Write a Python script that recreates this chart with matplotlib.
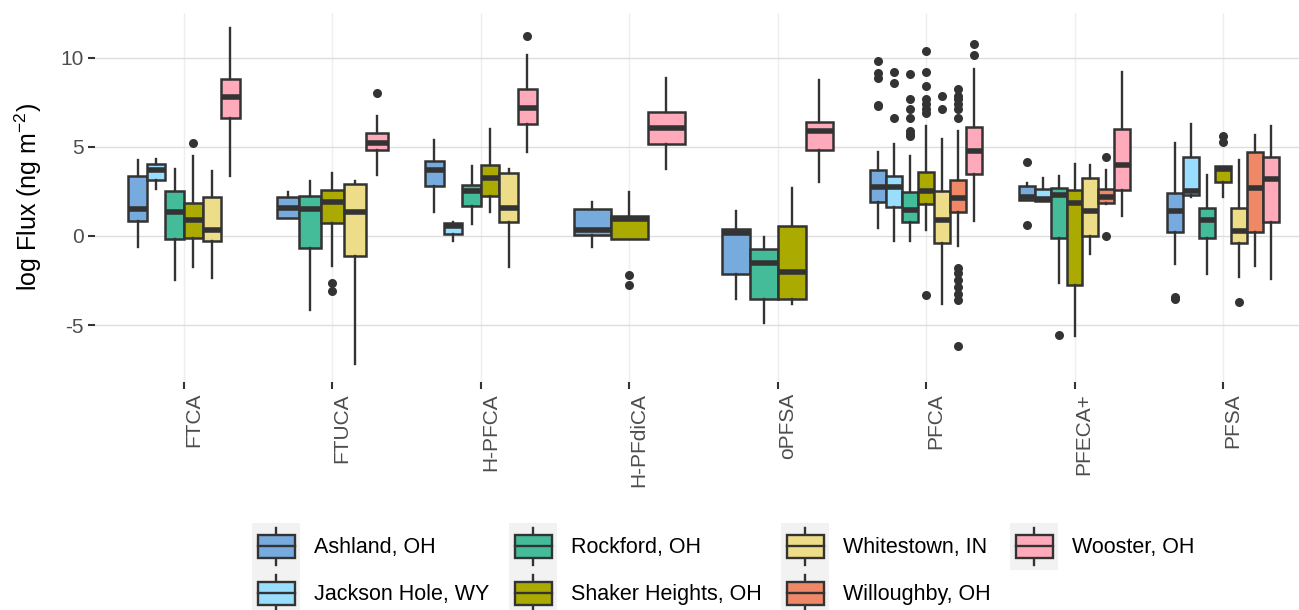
import matplotlib
matplotlib.use("Agg")
import matplotlib.pyplot as plt
from matplotlib.patches import Rectangle
from matplotlib.lines import Line2D
from matplotlib.legend_handler import HandlerBase

plt.rcParams['font.family'] = ['Liberation Sans', 'DejaVu Sans']
plt.rcParams['mathtext.fontset'] = 'custom'
plt.rcParams['mathtext.rm'] = 'Liberation Sans'
plt.rcParams['mathtext.it'] = 'Liberation Sans:italic'

# categories on the x axis
categories = ['FTCA', 'FTUCA', 'H-PFCA', 'H-PFdiCA', 'oPFSA', 'PFCA', 'PFECA+', 'PFSA']

sites = ['Ashland, OH', 'Jackson Hole, WY', 'Rockford, OH', 'Shaker Heights, OH',
         'Whitestown, IN', 'Willoughby, OH', 'Wooster, OH']
site_colors = ['#77AADD', '#99DDFF', '#44BB99', '#AAAA00', '#EEDD88', '#EE8866', '#FFAABB']

# rows: category, lower whisker, q1, median, q3, upper whisker
ashland = [
    ('FTCA', -0.64, 0.84, 1.52, 3.34, 4.28),
    ('FTUCA', 0.99, 0.99, 1.56, 2.18, 2.44),
    ('H-PFCA', 1.35, 2.81, 3.68, 4.18, 5.37),
    ('H-PFdiCA', -0.64, 0.06, 0.35, 1.50, 1.89),
    ('oPFSA', -3.51, -2.14, 0.15, 0.38, 1.41),
    ('PFCA', 0.43, 1.93, 2.72, 3.71, 4.69),
    ('PFECA+', 1.99, 1.99, 2.21, 2.78, 2.96),
    ('PFSA', -1.59, 0.21, 1.41, 2.40, 5.22),
]
ashland_out = {'PFCA': [9.81, 9.12, 8.84, 7.32, 7.28], 'PFECA+': [4.15, 0.62],
               'PFSA': [-3.40, -3.55]}

jackson_hole = [
    ('FTCA', 2.63, 3.15, 3.71, 4.03, 4.32),
    ('H-PFCA', -0.26, 0.11, 0.56, 0.75, 0.81),
    ('PFCA', -0.26, 1.65, 2.72, 3.38, 5.18),
    ('PFECA+', 1.97, 1.97, 2.06, 2.65, 3.25),
    ('PFSA', 2.16, 2.31, 2.53, 4.43, 6.29),
]
jackson_hole_out = {'PFCA': [9.19, 8.56, 6.62]}

rockford = [
    ('FTCA', -2.44, -0.17, 1.37, 2.50, 3.75),
    ('FTUCA', -4.13, -0.69, 1.50, 2.25, 3.06),
    ('H-PFCA', 0.66, 1.69, 2.50, 2.87, 3.90),
    ('oPFSA', -4.86, -3.51, -1.54, -0.73, -0.08),
    ('PFCA', -0.26, 0.81, 1.46, 2.44, 4.47),
    ('PFECA+', -2.63, -0.13, 2.31, 2.68, 3.38),
    ('PFSA', -2.14, -0.09, 0.90, 1.56, 3.43),
]
rockford_out = {'PFCA': [9.06, 7.65, 7.13, 6.62, 5.91, 5.72, 5.59], 'PFECA+': [-5.52]}

shaker_heights = [
    ('FTCA', -1.73, -0.13, 0.90, 1.84, 4.47),
    ('FTUCA', -1.67, 0.71, 1.89, 2.55, 3.53),
    ('H-PFCA', 1.33, 2.25, 3.25, 4.00, 5.97),
    ('H-PFdiCA', -0.19, -0.19, 0.95, 1.13, 2.44),
    ('oPFSA', -3.83, -3.51, -2.01, 0.56, 2.68),
    ('PFCA', 0.34, 1.80, 2.50, 3.56, 6.15),
    ('PFECA+', -5.61, -2.76, 1.84, 2.55, 4.03),
    ('PFSA', 2.21, 3.00, 3.75, 3.94, 3.94),
]
shaker_heights_out = {'FTCA': [5.22], 'FTUCA': [-2.63, -3.08], 'H-PFdiCA': [-2.21, -2.76],
                      'PFCA': [10.34, 9.16, 8.40, 7.65, 7.37, 7.09, 6.90, -3.28],
                      'PFSA': [5.63, 5.25]}

whitestown = [
    ('FTCA', -2.38, -0.26, 0.34, 2.18, 3.62),
    ('FTUCA', -7.17, -1.13, 1.35, 2.93, 3.10),
    ('H-PFCA', -1.73, 0.81, 1.56, 3.53, 3.75),
    ('PFCA', -3.79, -0.41, 0.90, 2.50, 5.46),
    ('PFECA+', -1.01, 0.02, 1.41, 3.25, 4.00),
    ('PFSA', -2.29, -0.41, 0.28, 1.56, 4.24),
]
whitestown_out = {'PFCA': [7.84, 7.13], 'PFSA': [-3.70]}

willoughby = [
    ('PFCA', -0.56, 1.33, 2.12, 3.11, 5.87),
    ('PFECA+', 1.80, 1.84, 2.21, 2.63, 3.71),
    ('PFSA', -1.67, 0.21, 2.68, 4.71, 5.68),
]
willoughby_out = {'PFCA': [8.26, 7.84, 7.65, 7.37, 7.09, 6.62,
                           -1.82, -2.10, -2.48, -2.85, -3.23, -3.56, -6.17],
                  'PFECA+': [4.41, 0.02]}

wooster = [
    ('FTCA', 3.34, 6.62, 7.79, 8.78, 11.63),
    ('FTUCA', 3.43, 4.84, 5.22, 5.78, 6.72),
    ('H-PFCA', 4.69, 6.25, 7.19, 8.22, 10.15),
    ('H-PFdiCA', 3.75, 5.16, 6.06, 6.96, 8.84),
    ('oPFSA', 3.00, 4.84, 5.87, 6.40, 8.72),
    ('PFCA', 0.86, 3.49, 4.78, 6.10, 9.38),
    ('PFECA+', 1.14, 2.59, 3.96, 6.02, 9.19),
    ('PFSA', -2.42, 0.77, 3.19, 4.43, 6.15),
]
wooster_out = {'FTUCA': [7.99], 'H-PFCA': [11.22], 'PFCA': [10.75, 10.13]}

site_stats = [ashland, jackson_hole, rockford, shaker_heights, whitestown, willoughby, wooster]
site_out = [ashland_out, jackson_hole_out, rockford_out, shaker_heights_out,
            whitestown_out, willoughby_out, wooster_out]

EDGE = '#333333'

fig = plt.figure(figsize=(12.99, 6.10), dpi=100)
ax = fig.add_axes([95 / 1299, 1 - 382 / 610, (1312 - 95) / 1299, (382 - 12.7) / 610])

# dodge: boxes present in each category share a total width of 0.75
for ci, cat in enumerate(categories):
    present = []
    for si in range(len(sites)):
        for row in site_stats[si]:
            if row[0] == cat:
                present.append((si, row))
    n = len(present)
    w = 0.75 / n
    for k, (si, row) in enumerate(present):
        pos = ci + 1 - 0.375 + (k + 0.5) * w
        st = dict(whislo=row[1], q1=row[2], med=row[3], q3=row[4], whishi=row[5],
                  fliers=site_out[si].get(cat, []))
        ax.bxp([st], positions=[pos], widths=[w], patch_artist=True, showcaps=False,
               boxprops=dict(facecolor=site_colors[si], edgecolor=EDGE, linewidth=1.8),
               whiskerprops=dict(color=EDGE, linewidth=1.7),
               medianprops=dict(color=EDGE, linewidth=4.0, solid_capstyle='butt'),
               flierprops=dict(marker='o', markerfacecolor=EDGE, markeredgecolor='none',
                               markersize=6.5),
               manage_ticks=False, zorder=3)

ax.set_xlim(0.4, 8.6)
ax.set_ylim(-8.18, 12.51)
ax.set_yticks([-5, 0, 5, 10])
ax.set_yticklabels(['-5', '0', '5', '10'])
ax.set_xticks(range(1, len(categories) + 1))
ax.set_xticklabels(categories, rotation=90, ha='left', va='top')

ax.grid(axis='y', color='#DEDEDE', linewidth=1.0)
ax.grid(axis='x', color='#EEEEEE', linewidth=1.0)
ax.set_axisbelow(True)
for s in ax.spines.values():
    s.set_visible(False)
ax.tick_params(axis='both', length=5, width=1.5, color=EDGE, labelsize=15,
               labelcolor='#4D4D4D', pad=3)

ax.set_ylabel('log Flux (ng m$^{-2}$)', fontsize=18, color='black', labelpad=12)


class BoxKey(HandlerBase):
    # ggplot-style boxplot key on a grey tile
    def create_artists(self, legend, orig_handle, xdescent, ydescent, width, height,
                       fontsize, trans):
        x0, y0 = -xdescent, -ydescent
        bg = Rectangle((x0, y0), width, height, facecolor='#F2F2F2', edgecolor='none',
                       transform=trans)
        wh = Line2D([x0 + width / 2] * 2, [y0 + 0.1 * height, y0 + 0.9 * height],
                    color=EDGE, lw=1.7, transform=trans)
        box = Rectangle((x0 + 0.125 * width, y0 + 0.255 * height), 0.775 * width,
                        0.49 * height, facecolor=orig_handle.get_facecolor(),
                        edgecolor=EDGE, lw=1.7, transform=trans)
        med = Line2D([x0 + 0.125 * width, x0 + 0.9 * width], [y0 + 0.5 * height] * 2,
                     color=EDGE, lw=1.7, transform=trans)
        return [bg, wh, box, med]


handles = [Rectangle((0, 0), 1, 1, facecolor=c) for c in site_colors]
fig.legend(handles, sites, handler_map={Rectangle: BoxKey()}, ncol=4,
           loc='upper left', bbox_to_anchor=(252 / 1299, 1 - 523 / 610),
           frameon=False, fontsize=15.5, borderpad=0, borderaxespad=0,
           handlelength=2.23, handleheight=2.98, labelspacing=0,
           handletextpad=0.65, columnspacing=0.9)

fig.savefig('out.png', dpi=100)
